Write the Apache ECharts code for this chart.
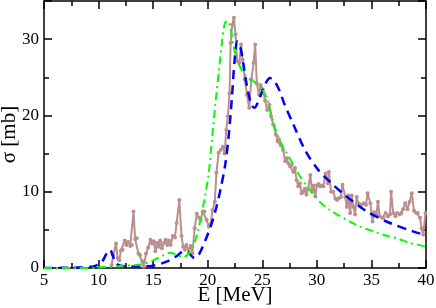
<!DOCTYPE html>
<html><head><meta charset="utf-8">
<script src="https://cdn.jsdelivr.net/npm/echarts@6/dist/echarts.min.js"></script>
<style>html,body{margin:0;padding:0;background:#fff}#c{width:436px;height:308px}</style>
</head><body><div id="c"></div>
<script>
const xTickLabels = ['5','10','15','20','25','30','35','40'];
const yTickLabels = ['0','10','20','30'];

const expE = [11.2,11.35,11.6,11.75,11.9,12.05,12.2,12.4,12.55,12.7,12.9,13.05,13.2,13.35,13.5,13.65,13.8,14.0,14.15,14.35,14.55,14.75,14.9,15.05,15.2,15.35,15.5,15.65,15.8,16.0,16.15,16.3,16.45,16.6,16.8,17.0,17.15,17.4,17.6,17.75,17.9,18.05,18.25,18.45,18.6,18.8,19.0,19.2,19.35,19.55,19.7,19.9,20.1,20.25,20.45,20.65,20.8,21.0,21.2,21.4,21.55,21.7,21.85,22.0,22.1,22.25,22.4,22.55,22.7,22.9,23.05,23.2,23.4,23.6,23.8,24.0,24.2,24.35,24.5,24.7,24.85,25.05,25.25,25.45,25.65,25.8,26.0,26.25,26.4,26.55,26.7,26.9,27.1,27.25,27.4,27.55,27.7,27.85,28.0,28.15,28.3,28.45,28.6,28.75,28.9,29.05,29.2,29.4,29.55,29.7,29.85,30.0,30.15,30.3,30.45,30.6,30.8,31.0,31.1,31.3,31.5,31.7,31.85,32.0,32.2,32.35,32.6,32.75,32.9,33.05,33.2,33.35,33.5,33.65,33.8,34.0,34.1,34.3,34.5,34.65,34.9,35.1,35.25,35.45,35.6,35.75,36.0,36.1,36.3,36.5,36.7,36.8,37.0,37.2,37.35,37.6,37.75,37.9,38.1,38.3,38.5,38.7,38.9,39.1,39.25,39.45,39.6,39.75,39.95];
const expSigma = [0.4,1.7,3.2,1.3,1.0,2.3,2.4,3.6,3.0,3.4,2.9,3.0,7.4,3.8,3.9,1.9,1.7,0.9,0.2,1.9,2.7,3.7,3.2,3.5,2.2,3.3,2.8,3.6,2.6,3.3,3.7,3.0,3.6,3.0,4.2,4.0,5.9,8.9,4.2,2.8,2.4,3.0,2.4,2.9,1.9,5.2,7.1,6.6,6.3,7.4,7.4,6.3,5.4,5.7,7.6,8.7,12.5,15.1,15.5,15.9,15.0,18.1,19.9,22.9,29.5,31.9,32.8,30.6,27.1,26.9,29.3,27.3,24.7,22.7,21.0,24.7,26.9,29.3,24.2,22.7,24.0,23.4,22.0,20.7,21.4,19.9,18.8,17.5,16.6,16.8,16.1,15.5,14.0,14.4,13.7,13.3,13.5,12.6,13.1,11.5,10.7,11.1,9.8,10.0,10.4,9.6,10.4,12.2,10.0,10.8,9.4,10.8,11.0,10.7,10.8,10.7,12.4,11.1,12.6,10.0,10.0,9.1,8.9,9.1,9.3,10.9,9.3,8.0,9.5,7.2,9.5,8.0,7.0,9.3,8.5,8.3,8.3,8.5,8.3,9.8,8.5,6.1,7.3,7.0,8.7,6.8,6.6,6.6,7.2,6.8,7.0,10.0,7.2,6.8,7.2,7.0,7.2,7.7,8.5,7.7,8.7,9.8,7.5,7.2,7.2,6.6,5.2,4.4,7.2];

const blueE = [5,8,9.5,10.3,10.7,11.05,11.3,11.6,12,13,14,15,15.8,16.5,17.2,17.8,18.2,18.5,18.8,19.2,19.6,20.0,20.4,20.8,21.2,21.6,21.9,22.2,22.45,22.7,22.95,23.25,23.6,24.0,24.3,24.6,24.9,25.3,25.7,26.1,26.5,27.0,27.85,28.9,30.1,31.5,32.7,34.6,36.7,38.8,40];
const blueSigma = [0,0.05,0.2,0.8,1.8,2.4,1.6,0.6,0.3,0.2,0.2,0.3,0.6,1.0,1.6,2.2,2.1,1.6,1.3,1.8,3.0,4.4,6.0,8.0,10.5,13.5,17,22,27,29.7,29.2,26.9,23.8,21.4,21.0,21.7,22.8,24.2,24.9,24.5,23.5,21.6,18.8,15.5,12.9,10.9,9.4,7.4,5.9,4.8,4.3];

const greenE = [5,8,10,11,12,13,14,15,16,16.6,17.2,17.7,18.2,18.7,19.1,19.5,19.8,20.1,20.4,20.7,21.0,21.3,21.55,21.8,22.05,22.35,22.7,23.1,23.5,23.9,24.3,24.65,25.0,25.4,25.85,26.2,26.6,27.0,27.5,28.0,28.45,29.0,29.7,30.4,31.2,32.0,33.0,34.0,35.2,36.2,37.3,38.5,40];
const greenSigma = [0,0,0.05,0.15,0.25,0.35,0.5,1.0,1.7,2.0,1.7,1.4,1.8,3.0,4.8,7.5,9.8,12.5,17,21.5,25.5,29.5,32.0,32.4,31.7,29.2,27.3,26.0,25.2,24.7,24.4,24.0,23.4,22.3,20.0,18.2,16.8,15.6,14.4,13.2,12.0,10.9,9.6,8.5,7.6,6.9,6.1,5.4,4.8,4.3,3.9,3.3,2.8];

const pairs = (a, b) => a.map((v, i) => [v, b[i]]);
const font = 'Liberation Serif';
const axisCommon = (show) => ({
  type: 'value',
  axisLine: { show: true, onZero: false, lineStyle: { color: '#000', width: 1.5 } },
  axisTick: { show: true, inside: true, length: 8, lineStyle: { color: '#000', width: 1.5 } },
  minorTick: { show: true, splitNumber: 2, length: 5, lineStyle: { color: '#000', width: 1.5 } },
  splitLine: { show: false },
  axisLabel: { show: show, color: '#000', fontFamily: font, fontSize: 17, showMaxLabel: show ? undefined : false }
});

const chart = echarts.init(document.getElementById('c'), null, { renderer: 'canvas' });
chart.setOption({
  animation: false,
  backgroundColor: '#fff',
  grid: { left: 44, right: 10, top: 1, bottom: 40, containLabel: false, outerBoundsMode: 'none' },
  xAxis: [
    Object.assign(axisCommon(true), {
      min: 5, max: 40, interval: 5, position: 'bottom',
      axisLabel: { color: '#000', fontFamily: font, fontSize: 17, margin: 4,
        formatter: v => xTickLabels[Math.round((v - 5) / 5)] },
      name: 'E [MeV]', nameLocation: 'middle', nameGap: 17, nameMoveOverlap: false,
      nameTextStyle: { color: '#000', fontFamily: font, fontSize: 21 }
    }),
    Object.assign(axisCommon(false), { min: 5, max: 40, interval: 5, position: 'top' })
  ],
  yAxis: [
    Object.assign(axisCommon(true), {
      min: 0, max: 35, interval: 10, position: 'left',
      axisLabel: { color: '#000', fontFamily: font, fontSize: 17, margin: 5, showMaxLabel: false,
        formatter: v => (v % 10 === 0 && v / 10 < yTickLabels.length) ? yTickLabels[v / 10] : '' },
      name: 'σ [mb]', nameLocation: 'middle', nameGap: 24, nameMoveOverlap: false,
      nameTextStyle: { color: '#000', fontFamily: font, fontSize: 21 }
    }),
    Object.assign(axisCommon(false), { min: 0, max: 35, interval: 10, position: 'right' })
  ],
  series: [
    {
      type: 'line', data: pairs(expE, expSigma), xAxisIndex: 0, yAxisIndex: 0,
      symbol: 'circle', symbolSize: 4, showSymbol: true,
      lineStyle: { color: '#bc8f8f', width: 2 },
      itemStyle: { color: '#bc8f8f' }, z: 2
    },
    {
      type: 'line', data: pairs(blueE, blueSigma), symbol: 'none', smooth: 0.3,
      lineStyle: { color: '#0000ff', width: 2.5, type: [9, 6] }, z: 3
    },
    {
      type: 'line', data: pairs(greenE, greenSigma), symbol: 'none', smooth: 0.3,
      lineStyle: { color: '#00ff00', width: 2, type: [8, 4, 2, 4] }, z: 4
    }
  ]
});
</script>
</body></html>
